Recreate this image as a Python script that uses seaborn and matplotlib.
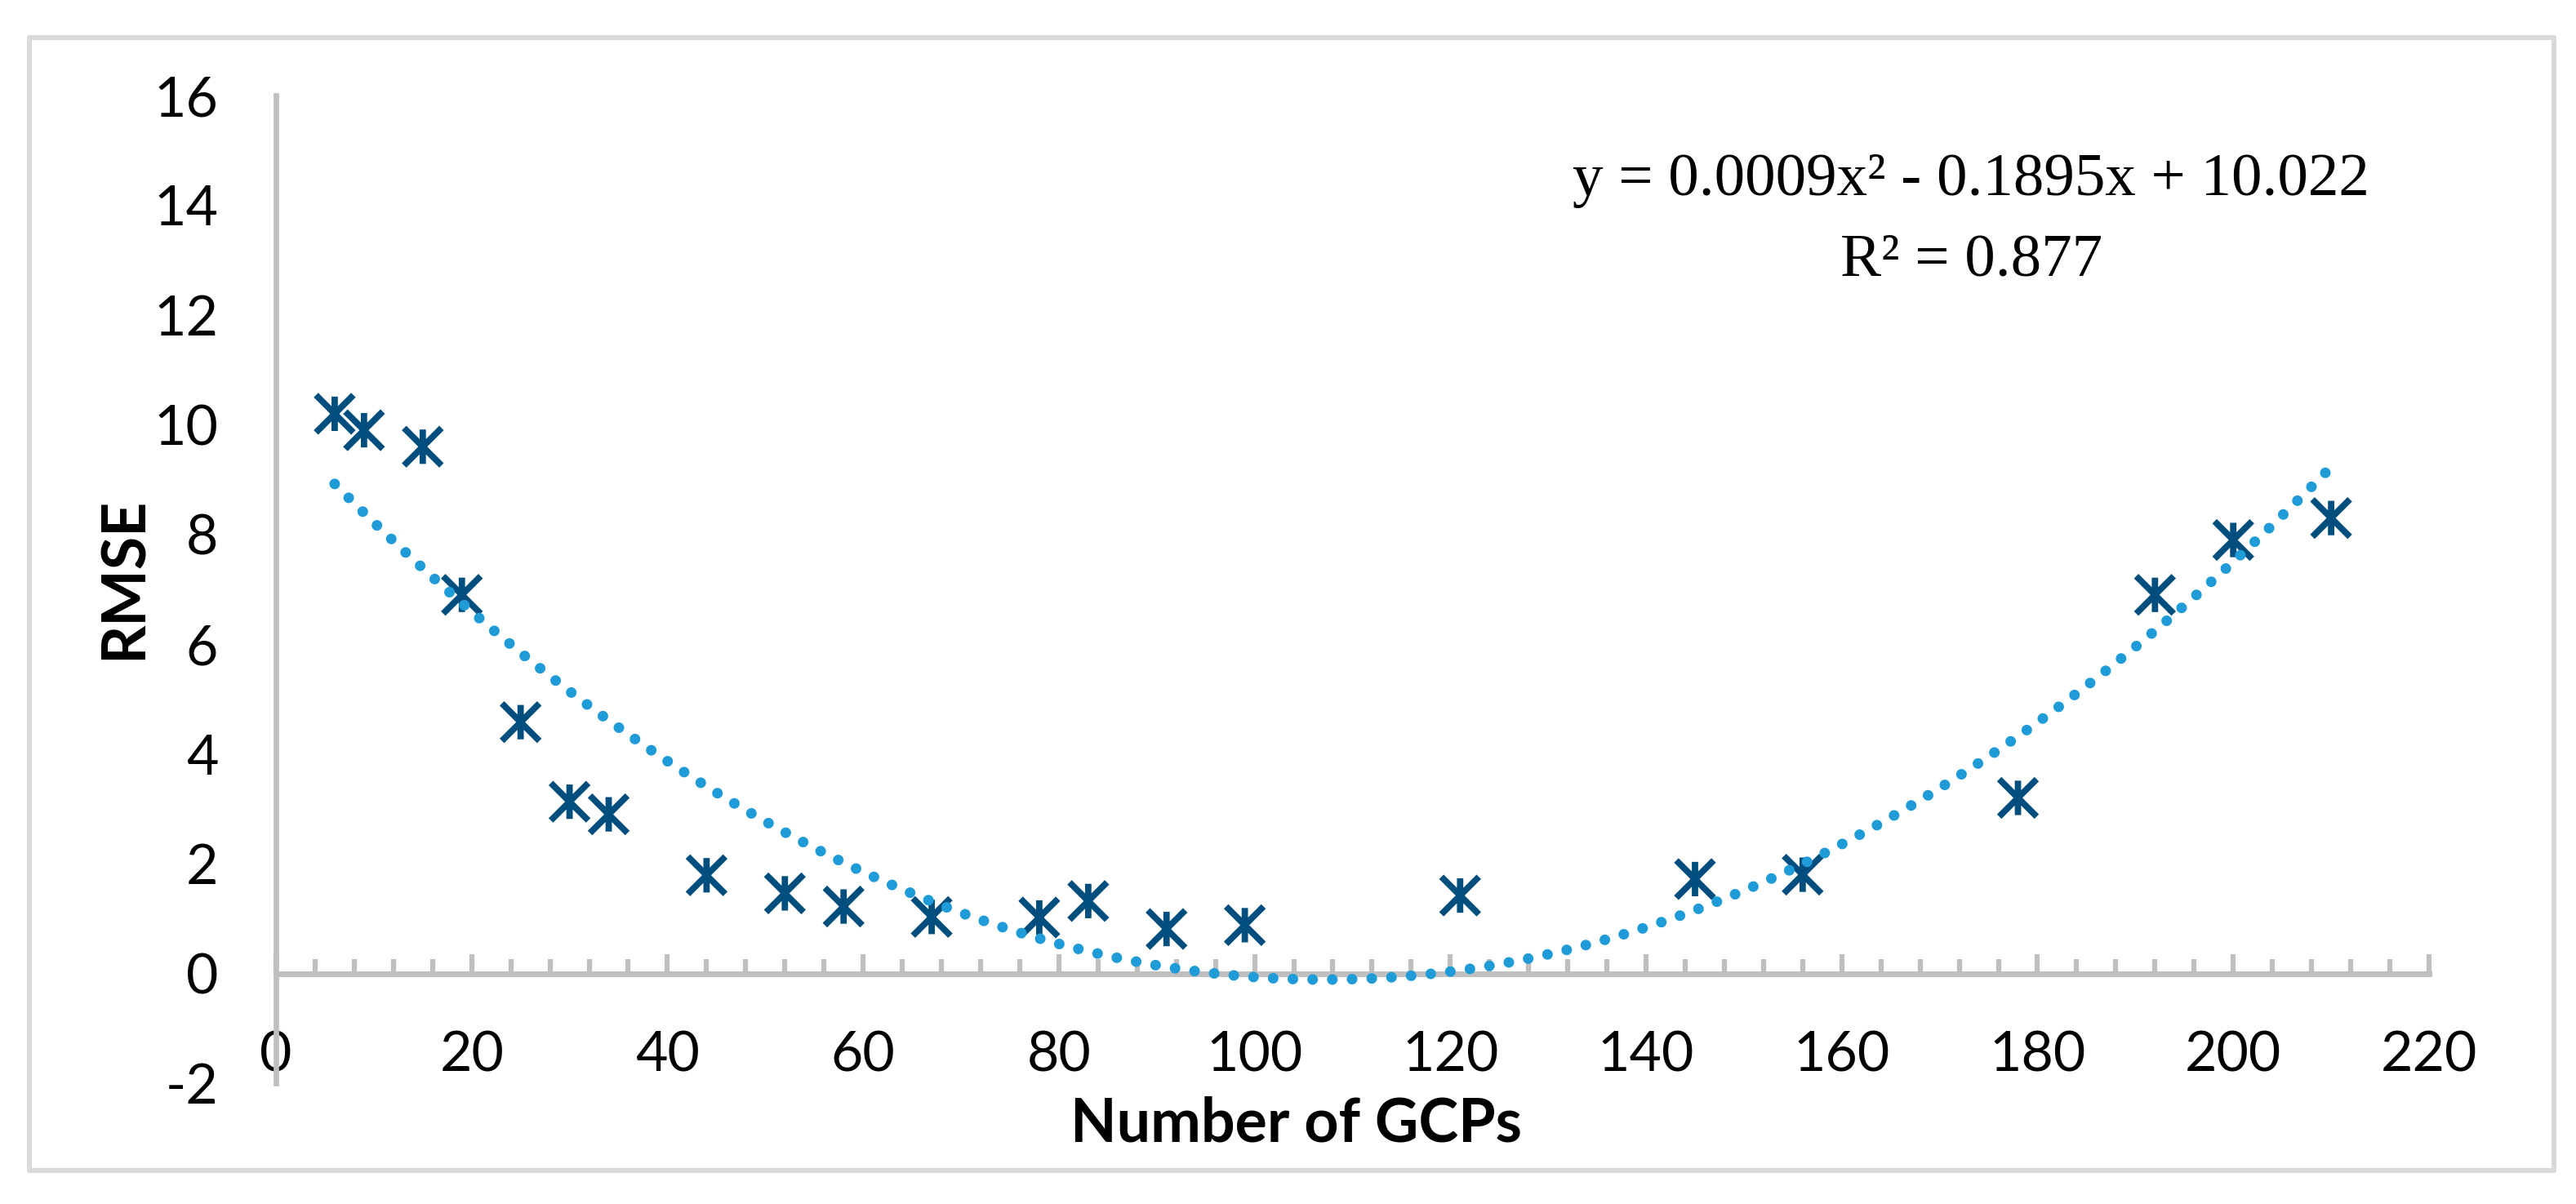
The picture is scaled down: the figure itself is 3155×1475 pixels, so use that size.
import numpy as np
import matplotlib
matplotlib.use('Agg')
import matplotlib.pyplot as plt
from matplotlib.path import Path
from matplotlib.patches import Rectangle
from matplotlib.ticker import MultipleLocator
import seaborn as sns

# values
gcps = [6, 9, 15, 19, 25, 30, 34, 44, 52, 58, 67, 78, 83, 91, 99, 121, 145, 156, 178, 192, 200, 210]
rmse = [10.2, 9.9, 9.6, 6.9, 4.58, 3.13, 2.9, 1.79, 1.46, 1.22, 1.03, 1.02, 1.32, 0.81, 0.88, 1.42,
        1.72, 1.8, 3.2, 6.9, 7.9, 8.3]
x_ticks = list(range(0, 221, 20))
y_ticks = list(range(-2, 17, 2))
eq_text = 'y = 0.0009x² - 0.1895x + 10.022'
r2_text = 'R² = 0.877'

DARK = '#004E7D'
LIGHT = '#1F9BD8'
AXIS_GRAY = '#BFBFBF'
BORDER_GRAY = '#D9D9D9'

sns.set_theme(style='white')
plt.rcParams['font.family'] = ['Lato', 'DejaVu Sans']
plt.rcParams['axes.unicode_minus'] = False

fig = plt.figure(figsize=(31.55, 14.75), dpi=100)
ax = fig.add_axes([0.10713, 0.10034, 0.8358, 0.8203])

# chart area border
fig.patches.append(Rectangle((0.01141, 0.0278), 0.98003, 0.94068, transform=fig.transFigure,
                             fill=False, edgecolor=BORDER_GRAY, linewidth=4.3, joinstyle='round'))

# star marker: X plus vertical bar
star = Path([(-1, -1), (1, 1), (-1, 1), (1, -1), (0, -0.92), (0, 0.92)],
            [Path.MOVETO, Path.LINETO, Path.MOVETO, Path.LINETO, Path.MOVETO, Path.LINETO])

sns.scatterplot(x=gcps, y=rmse, marker=star, s=33 ** 2, facecolor='none', edgecolor=DARK,
                linewidth=5.6, ax=ax, zorder=3)

# polynomial trendline (order 2)
sns.regplot(x=gcps, y=rmse, order=2, ci=None, scatter=False, truncate=True, ax=ax,
            line_kws=dict(color=LIGHT, linewidth=9.4, linestyle=(0, (0.001, 1.85)),
                          dash_capstyle='round', zorder=4))

ax.set_xlim(0, 220)
ax.set_ylim(-2, 16)

for side in ['top', 'right']:
    ax.spines[side].set_visible(False)
ax.spines['bottom'].set_position(('data', 0))
ax.spines['bottom'].set_color(AXIS_GRAY)
ax.spines['bottom'].set_linewidth(5)
ax.spines['left'].set_color(AXIS_GRAY)
ax.spines['left'].set_linewidth(4.8)

ax.set_xticks(x_ticks)
ax.xaxis.set_minor_locator(MultipleLocator(4))
ax.set_yticks(y_ticks)
ax.tick_params(axis='x', which='major', direction='in', length=17, width=4.5, color=AXIS_GRAY,
               labelsize=49, labelcolor='black', pad=50, bottom=True)
ax.tick_params(axis='x', which='minor', direction='in', length=13, width=4.5, color=AXIS_GRAY,
               bottom=True)
ax.tick_params(axis='y', length=0, labelsize=49, labelcolor='black', pad=51)

ax.set_xlabel('Number of GCPs', fontsize=53, fontweight='bold', color='black')
ax.xaxis.label.set_va('baseline')
ax.xaxis.set_label_coords(0.474, -0.0595)
ax.set_ylabel('RMSE', fontsize=53, fontweight='bold', color='black')
ax.yaxis.label.set_va('center')
ax.yaxis.set_label_coords(-0.0703, 0.5116)

ax.text(0.7873, 0.8992, eq_text, transform=ax.transAxes, ha='center', va='baseline',
        fontsize=54, family=['Liberation Serif', 'DejaVu Serif'], color='black')
ax.text(0.7873, 0.8174, r2_text, transform=ax.transAxes, ha='center', va='baseline',
        fontsize=54, family=['Liberation Serif', 'DejaVu Serif'], color='black')

fig.savefig('out.png', dpi=100, facecolor='white')
